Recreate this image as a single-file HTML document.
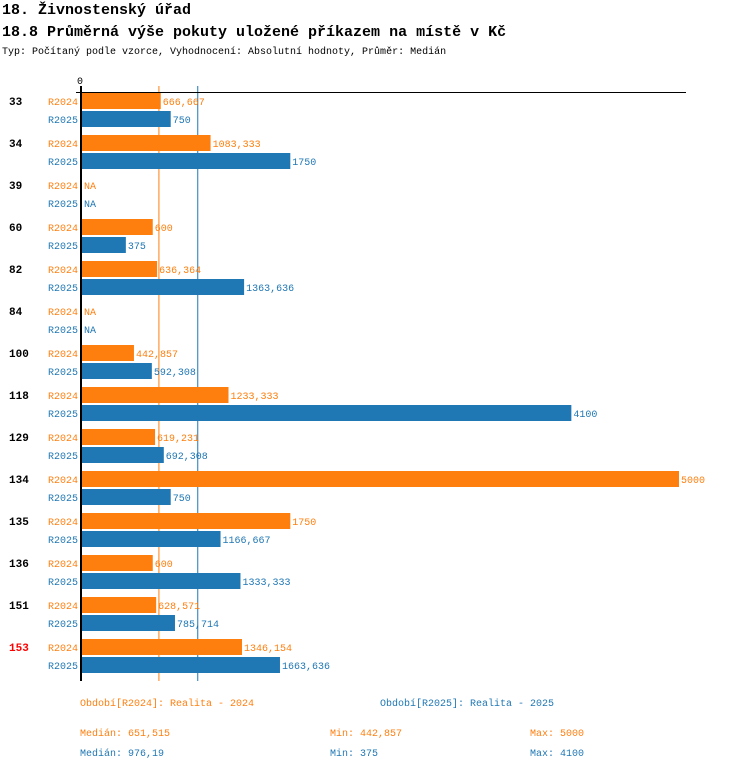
<!DOCTYPE html>
<html><head><meta charset="utf-8"><style>
body{margin:0;background:#fff;width:750px;height:770px;overflow:hidden}
svg{display:block;font-family:"Liberation Mono",monospace}
</style></head><body>
<svg id="c" width="750" height="770">
<text x="2" y="14" font-size="15" font-weight="bold">18. Živnostenský úřad</text>
<text x="2" y="36" font-size="15" font-weight="bold">18.8 Průměrná výše pokuty uložené příkazem na místě v Kč</text>
<text x="2" y="54" font-size="10">Typ: Počítaný podle vzorce, Vyhodnocení: Absolutní hodnoty, Průměr: Medián</text>
<text x="77" y="84" font-size="10">0</text>
<g id="g"></g>
<line x1="76" y1="92.5" x2="686" y2="92.5" stroke="#000"/>
<line x1="81" y1="86" x2="81" y2="681" stroke="#000" stroke-width="2"/>
<text x="80" y="706" font-size="10" fill="#ff7f0e">Období[R2024]: Realita - 2024</text>
<text x="380" y="706" font-size="10" fill="#1f77b4">Období[R2025]: Realita - 2025</text>
<text x="80" y="736" font-size="10" fill="#ff7f0e">Medián: 651,515</text>
<text x="330" y="736" font-size="10" fill="#ff7f0e">Min: 442,857</text>
<text x="530" y="736" font-size="10" fill="#ff7f0e">Max: 5000</text>
<text x="80" y="756" font-size="10" fill="#1f77b4">Medián: 976,19</text>
<text x="330" y="756" font-size="10" fill="#1f77b4">Min: 375</text>
<text x="530" y="756" font-size="10" fill="#1f77b4">Max: 4100</text>
</svg>
<script>
const categories=["33","34","39","60","82","84","100","118","129","134","135","136","151","153"];
const r2024=[666.667,1083.333,null,600,636.364,null,442.857,1233.333,619.231,5000,1750,600,628.571,1346.154];
const r2025=[750,1750,null,375,1363.636,null,592.308,4100,692.308,750,1166.667,1333.333,785.714,1663.636];
const medians=[651.515,976.19];
const highlighted=["153"];
const NS="http://www.w3.org/2000/svg",g=document.getElementById("g");
const x0=81,k=0.1196;
const xs=v=>x0+v*k;
const y0=93,step=42;
function mk(t,a){const e=document.createElementNS(NS,t);for(const n in a)e.setAttribute(n,a[n]);g.appendChild(e);return e;}
const fmt=v=>v==null?"NA":String(+v.toFixed(3)).replace(".",",");
const cols=["#ff7f0e","#1f77b4"],names=["R2024","R2025"];
medians.forEach((m,i)=>{const l=mk("line",{x1:xs(m),x2:xs(m),y1:86,y2:681,stroke:cols[i],"stroke-width":1});

});
categories.forEach((c,i)=>{
 const yb=y0+i*step;
 const t=mk("text",{x:9,y:yb+12,"font-size":11,"font-weight":"bold",fill:highlighted.includes(c)?"#f00":"#000"});t.textContent=c;
 
 
 [r2024[i],r2025[i]].forEach((v,j)=>{
  const y=yb+j*18;
  const lab=mk("text",{x:78,y:y+12,"font-size":10,fill:cols[j],"text-anchor":"end"});lab.textContent=names[j];
  
  
  let end=x0+1;
  if(v!=null){const r=mk("rect",{x:x0+1,y:y,width:xs(v)-x0-1,height:16,fill:cols[j]});end=xs(v);
   
   }
  const vl=mk("text",{x:end+2,y:y+12,"font-size":10,fill:cols[j]});vl.textContent=fmt(v);
  
  
 });
});
</script>
</body></html>
